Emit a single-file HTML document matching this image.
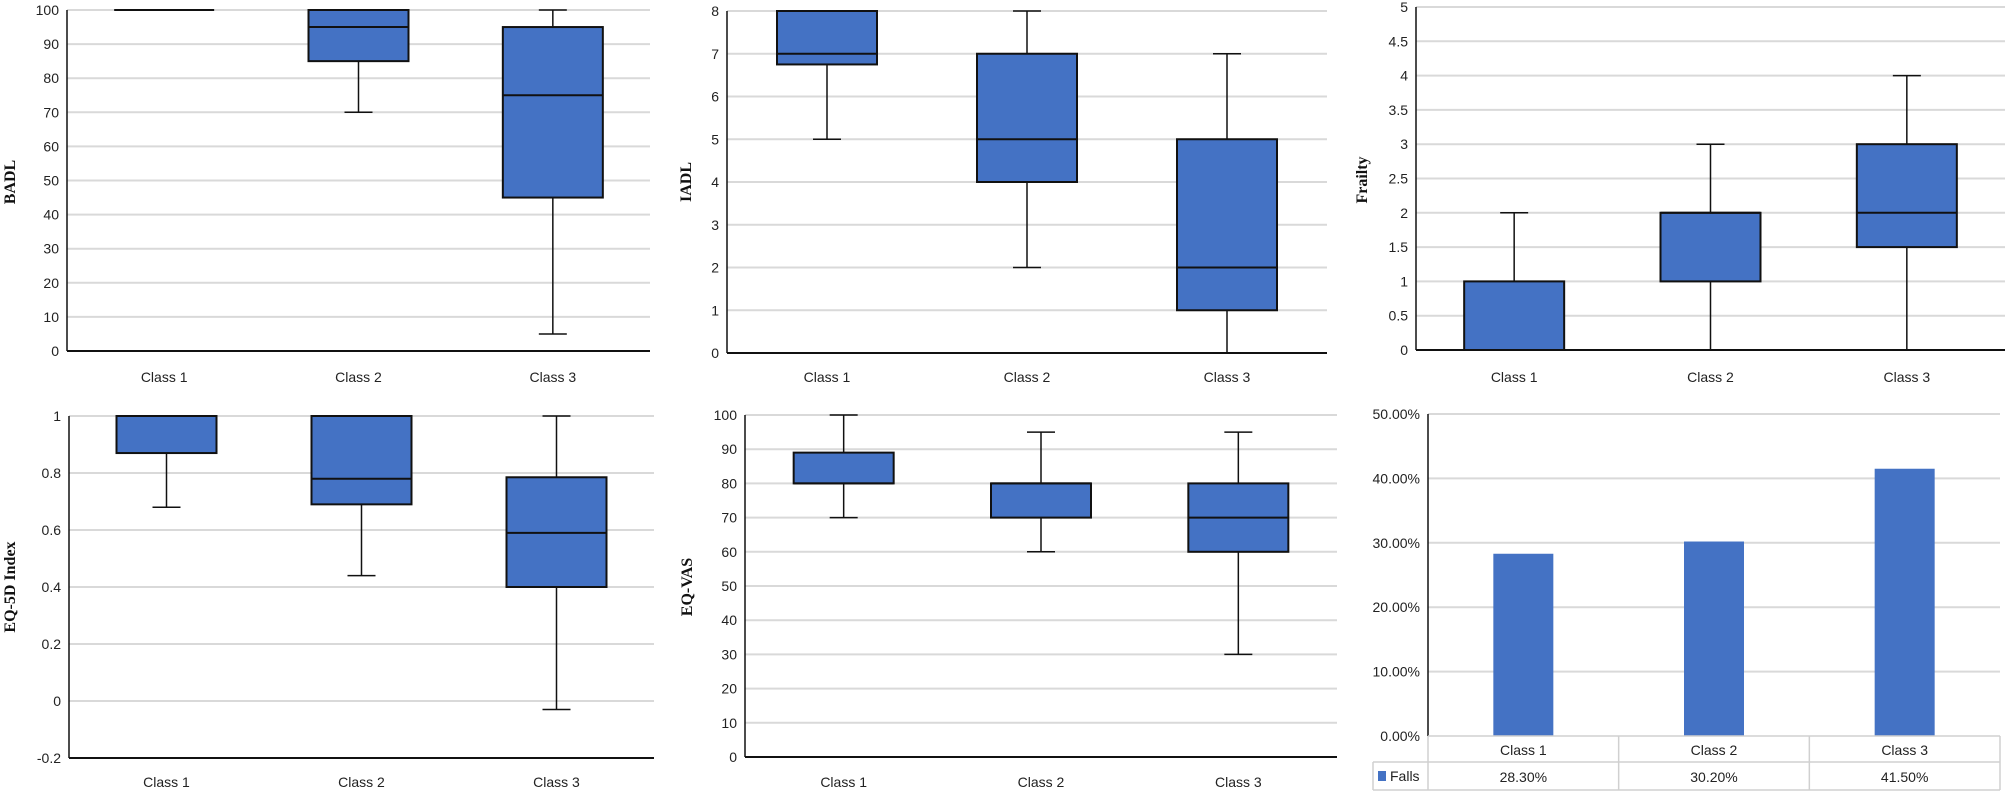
<!DOCTYPE html>
<html><head><meta charset="utf-8"><style>
body{margin:0;background:#fff;}
svg{display:block;font-family:"Liberation Sans",sans-serif;}
.tick{font-size:14px;fill:#222;}
.cat{font-size:14px;fill:#222;}
.ytitle{font-family:"Liberation Serif",serif;font-weight:bold;font-size:16px;fill:#111;}
</style></head><body>
<svg id="chart" width="2008" height="793" viewBox="0 0 2008 793" xmlns="http://www.w3.org/2000/svg"></svg>
<script>
const categories = ["Class 1","Class 2","Class 3"];
// box stats: [min, q1, median, q3, max]
const badlStats = [[100,100,100,100,100],[70,85,95,100,100],[5,45,75,95,100]];
const iadlStats = [[5,6.75,7,8,8],[2,4,5,7,8],[0,1,2,5,7]];
const frailtyStats = [[0,0,0,1,2],[0,1,2,2,3],[0,1.5,2,3,4]];
const eq5dStats = [[0.68,0.87,1,1,1],[0.44,0.69,0.78,1,1],[-0.03,0.40,0.59,0.785,1]];
const eqvasStats = [[70,80,80,89,100],[60,70,80,80,95],[30,60,70,80,95]];
const badlTicks = [0,10,20,30,40,50,60,70,80,90,100];
const iadlTicks = [0,1,2,3,4,5,6,7,8];
const frailtyTicks = [0,0.5,1,1.5,2,2.5,3,3.5,4,4.5,5];
const eq5dTicks = [-0.2,0,0.2,0.4,0.6,0.8,1];
const eqvasTicks = [0,10,20,30,40,50,60,70,80,90,100];
const fallsValues = [28.3,30.2,41.5];
const fallsTicks = [0,10,20,30,40,50];
const fallsLabels = ["28.30%","30.20%","41.50%"];

const NS="http://www.w3.org/2000/svg";
const svg=document.getElementById('chart');
function mk(tag,attrs,parent,text){const e=document.createElementNS(NS,tag);for(const k in attrs)e.setAttribute(k,attrs[k]);if(text!==undefined)e.textContent=text;(parent||svg).appendChild(e);return e;}

function boxPanel(cfg){
  const g=mk('g',{});
  
  
  const min=cfg.ticks[0],max=cfg.ticks[cfg.ticks.length-1];
  const y=v=>cfg.y0+(cfg.y1-cfg.y0)*(v-min)/(max-min);
  const step=(cfg.right-cfg.ax)/categories.length;
  const x=i=>cfg.ax+step*(i+0.5);
  cfg.ticks.forEach(t=>{
    if(t!==min){const gl=mk('line',{x1:cfg.ax,x2:cfg.right,y1:y(t),y2:y(t),stroke:'#d9d9d9','stroke-width':2},g);
    }
    const tl=mk('text',{x:cfg.ax-8,y:y(t)+5,'text-anchor':'end',class:'tick'},g,cfg.fmt?cfg.fmt(t):String(t));
    
  });
  const ya=mk('line',{x1:cfg.ax,x2:cfg.ax,y1:cfg.y1,y2:y(min),stroke:'#111','stroke-width':1.5},g);
  
  const xa=mk('line',{x1:cfg.ax,x2:cfg.right,y1:y(min),y2:y(min),stroke:'#111','stroke-width':2},g);
  
  cfg.stats.forEach((s,i)=>{
    const cx=x(i),hw=50,cw=14;
    const bg=mk('g',{},g);
    
    
    mk('line',{x1:cx,x2:cx,y1:y(s[0]),y2:y(s[4]),stroke:'#111','stroke-width':1.5},bg);
    mk('line',{x1:cx-cw,x2:cx+cw,y1:y(s[0]),y2:y(s[0]),stroke:'#111','stroke-width':1.5},bg);
    mk('line',{x1:cx-cw,x2:cx+cw,y1:y(s[4]),y2:y(s[4]),stroke:'#111','stroke-width':1.5},bg);
    mk('rect',{x:cx-hw,y:y(s[3]),width:2*hw,height:Math.max(0,y(s[1])-y(s[3])),fill:'#4472c4',stroke:'#111','stroke-width':2},bg);
    mk('line',{x1:cx-hw,x2:cx+hw,y1:y(s[2]),y2:y(s[2]),stroke:'#111','stroke-width':2},bg);
    const cl=mk('text',{x:cx,y:cfg.labY,'text-anchor':'middle',class:'cat'},g,categories[i]);
    
  });
  const tt=mk('text',{x:cfg.tx,y:cfg.ty,'text-anchor':'middle',class:'ytitle',transform:`rotate(-90 ${cfg.tx} ${cfg.ty})`},g,cfg.title);
  
}
boxPanel({name:'badl',stats:badlStats,ticks:badlTicks,ax:67,right:650,y0:351,y1:10,labY:382,title:'BADL',tx:15,ty:182});
boxPanel({name:'iadl',stats:iadlStats,ticks:iadlTicks,ax:727,right:1327,y0:353,y1:11,labY:382,title:'IADL',tx:691,ty:182});
boxPanel({name:'frailty',stats:frailtyStats,ticks:frailtyTicks,ax:1416,right:2005,y0:350,y1:7,labY:382,title:'Frailty',tx:1367,ty:180});
boxPanel({name:'eq5d',stats:eq5dStats,ticks:eq5dTicks,ax:69,right:654,y0:758,y1:416,labY:787,title:'EQ-5D Index',tx:15,ty:587});
boxPanel({name:'eqvas',stats:eqvasStats,ticks:eqvasTicks,ax:745,right:1337,y0:757,y1:415,labY:787,title:'EQ-VAS',tx:692,ty:587});

// Falls bar chart with data table
(function(){
  const g=mk('g',{});
  
  
  const ax=1428,right=2000,y0=736,y1=414;
  const y=v=>y0+(y1-y0)*v/50;
  const step=(right-ax)/categories.length;
  const x=i=>ax+step*(i+0.5);
  fallsTicks.forEach(t=>{
    if(t>0){const gl=mk('line',{x1:ax,x2:right,y1:y(t),y2:y(t),stroke:'#d9d9d9','stroke-width':2},g);
    }
    const tl=mk('text',{x:ax-8,y:y(t)+5,'text-anchor':'end',class:'tick'},g,t.toFixed(2)+'%');
    
  });
  fallsValues.forEach((v,i)=>{
    const b=mk('rect',{x:x(i)-30,y:y(v),width:60,height:y0-y(v),fill:'#4472c4'},g);
    
    
  });
  const ya=mk('line',{x1:ax,x2:ax,y1:y1,y2:y0,stroke:'#111','stroke-width':1.5},g);
  
  // table
  const tb=mk('g',{},g);
  
  
  const rowA=736,rowB=762,rowC=790,legL=1373;
  mk('line',{x1:ax,x2:right,y1:rowA,y2:rowA,stroke:'#d0d0d0','stroke-width':1.5},tb);
  mk('line',{x1:legL,x2:right,y1:rowB,y2:rowB,stroke:'#d0d0d0','stroke-width':1.5},tb);
  mk('line',{x1:legL,x2:right,y1:rowC,y2:rowC,stroke:'#d0d0d0','stroke-width':1.5},tb);
  mk('line',{x1:legL,x2:legL,y1:rowB,y2:rowC,stroke:'#d0d0d0','stroke-width':1.5},tb);
  for(let i=0;i<=3;i++){const xx=ax+step*i;mk('line',{x1:xx,x2:xx,y1:rowA,y2:rowC,stroke:'#d0d0d0','stroke-width':1.5},tb);}
  categories.forEach((c,i)=>{
    const t1=mk('text',{x:x(i),y:rowA+19,'text-anchor':'middle',class:'cat'},tb,c);
    
    const t2=mk('text',{x:x(i),y:rowB+20,'text-anchor':'middle',class:'cat'},tb,fallsLabels[i]);
    
  });
  const lk=mk('rect',{x:legL+5,y:rowB+9,width:8,height:10,fill:'#4472c4'},tb);
  
  const lt=mk('text',{x:legL+17,y:rowB+19,class:'cat'},tb,'Falls');
  
})();
</script>
</body></html>
